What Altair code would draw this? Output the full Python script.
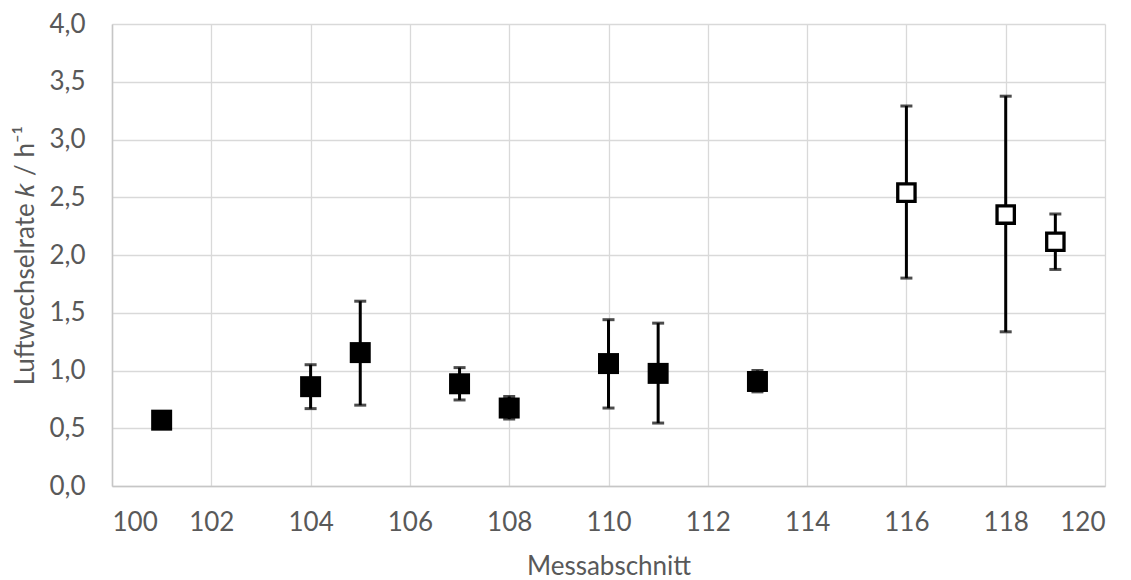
import altair as alt
import pandas as pd

# Data
abschnitt = [101, 104, 105, 107, 108, 110, 111, 113, 116, 118, 119]
k_wert = [0.57, 0.86, 1.155, 0.885, 0.675, 1.06, 0.975, 0.905, 2.54, 2.35, 2.115]
k_min = [0.57, 0.67, 0.70, 0.745, 0.58, 0.675, 0.545, 0.815, 1.80, 1.335, 1.875]
k_max = [0.57, 1.05, 1.60, 1.025, 0.775, 1.44, 1.41, 1.00, 3.29, 3.375, 2.355]
serie = ["gefüllt"] * 8 + ["offen"] * 3

x_ticks = list(range(100, 121, 2))
y_ticks = [0.0, 0.5, 1.0, 1.5, 2.0, 2.5, 3.0, 3.5, 4.0]

df = pd.DataFrame({
    "Messabschnitt": abschnitt,
    "k": k_wert,
    "kmin": k_min,
    "kmax": k_max,
    "serie": serie,
})

FONT = "Lato"
GREY = "#595959"

xs = alt.Scale(domain=[100, 120], nice=False, zero=False)
ys = alt.Scale(domain=[0, 4], nice=False)

x_enc = alt.X("Messabschnitt:Q", scale=xs,
              axis=alt.Axis(values=x_ticks, title="Messabschnitt", format="d",
                            labelPadding=23, titlePadding=18))
y_enc = alt.Y("k:Q", scale=ys,
              axis=alt.Axis(values=y_ticks, title="Luftwechselrate 𝑘 / h⁻¹",
                            format=".1f",
                            labelExpr="replace(datum.label, '.', ',')",
                            labelPadding=27, titlePadding=10))

base = alt.Chart(df)

rules = base.mark_rule(color="black", strokeWidth=3).encode(
    x=x_enc, y=alt.Y("kmin:Q", scale=ys), y2="kmax:Q"
)
cap_hi = base.mark_tick(color="black", orient="horizontal", size=12, thickness=3).encode(
    x=alt.X("Messabschnitt:Q", scale=xs), y=alt.Y("kmax:Q", scale=ys)
)
cap_lo = base.mark_tick(color="black", orient="horizontal", size=12, thickness=3).encode(
    x=alt.X("Messabschnitt:Q", scale=xs), y=alt.Y("kmin:Q", scale=ys)
)
filled = base.transform_filter(alt.datum.serie == "gefüllt").mark_square(
    size=441, color="black", opacity=1, filled=True
).encode(x=alt.X("Messabschnitt:Q", scale=xs), y=y_enc)
hollow = base.transform_filter(alt.datum.serie == "offen").mark_square(
    size=300, fill="white", stroke="black", strokeWidth=3.3, opacity=1, filled=True
).encode(x=alt.X("Messabschnitt:Q", scale=xs), y=alt.Y("k:Q", scale=ys))

chart = alt.layer(rules, cap_hi, cap_lo, filled, hollow).properties(
    width=993, height=462,
    autosize=alt.AutoSizeParams(type="none"),
    padding={"left": 104, "top": 16, "right": 18, "bottom": 93},
).configure_view(stroke=None).configure_axis(
    labelFont=FONT, titleFont=FONT, labelFontSize=26, titleFontSize=26,
    labelColor=GREY, titleColor=GREY, labelFontWeight="normal",
    titleFontWeight="normal", ticks=False, grid=True,
    gridColor="#d9d9d9", gridWidth=1.3, domainColor="#c6c6c6", domainWidth=1.5,
)

chart.save("out.html", embed_options={"renderer": "svg", "actions": False})
